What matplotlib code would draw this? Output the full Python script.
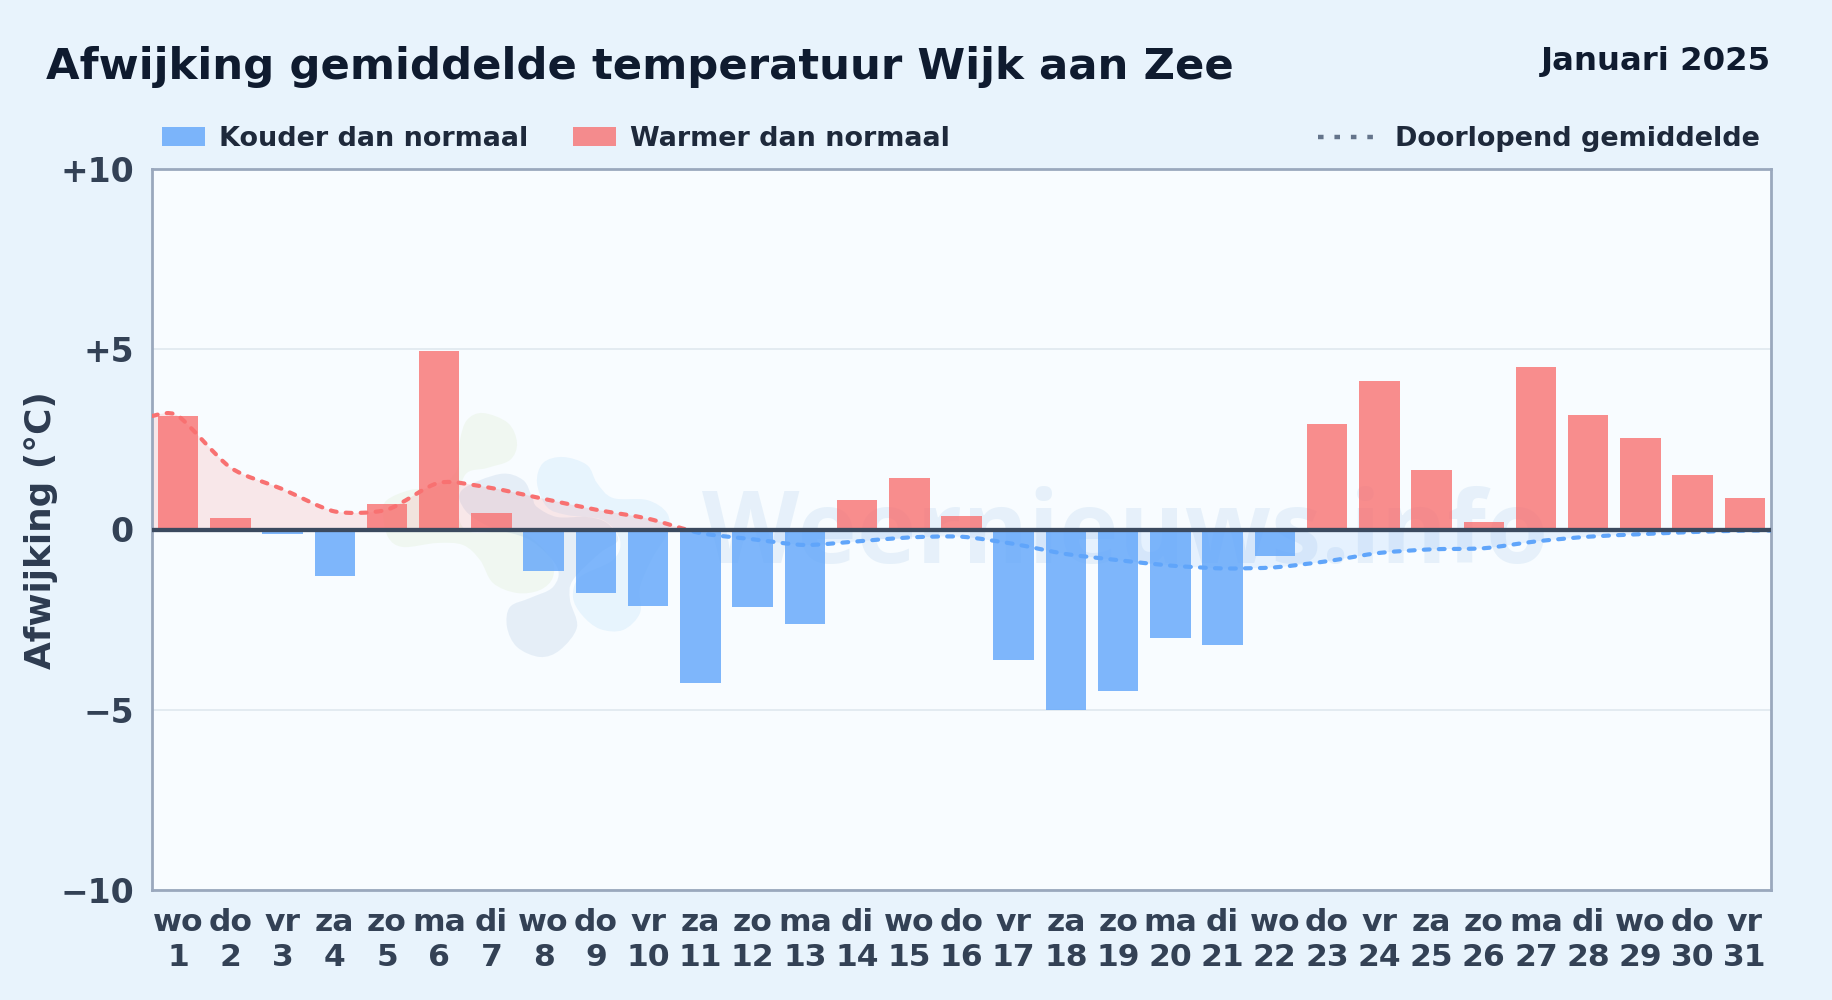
import numpy as np
import matplotlib
matplotlib.use("Agg")
import matplotlib.pyplot as plt
from matplotlib.patches import PathPatch, Rectangle
from matplotlib.path import Path
from matplotlib.transforms import Affine2D

# ---------- Data ----------
days = list(range(1, 32))
weekdays = ["wo", "do", "vr", "za", "zo", "ma", "di", "wo", "do", "vr", "za", "zo", "ma", "di", "wo", "do",
            "vr", "za", "zo", "ma", "di", "wo", "do", "vr", "za", "zo", "ma", "di", "wo", "do", "vr"]
deviation = [3.15, 0.32, -0.12, -1.3, 0.7, 4.95, 0.47, -1.15, -1.75, -2.13, -4.25, -2.15, -2.62, 0.82, 1.43, 0.37,
             -3.62, -5.02, -4.47, -3.0, -3.2, -0.73, 2.93, 4.13, 1.65, 0.2, 4.5, 3.17, 2.55, 1.5, 0.87]
running_mean = [3.15, 1.72, 1.12, 0.5, 0.55, 1.3, 1.15, 0.85, 0.55, 0.3, -0.1, -0.27, -0.43, -0.33, -0.22, -0.2,
                -0.4, -0.68, -0.85, -1.0, -1.08, -1.05, -0.88, -0.65, -0.55, -0.52, -0.33, -0.2, -0.13, -0.07, -0.03]
y_ticks = [10, 5, 0, -5, -10]
y_labels = ["+10", "+5", "0", "\u22125", "\u221210"]

# logo outlines, figure pixels
logo_green = [(483, 413), (508, 423), (517, 443), (510, 460), (487, 468), (465, 475), (458, 510), (470, 532),
              (520, 532), (550, 557), (553, 577), (540, 590), (517, 593), (493, 583), (480, 560), (463, 545),
              (437, 543), (403, 547), (388, 537), (383, 513), (387, 500), (410, 490), (437, 487), (457, 470),
              (460, 440), (467, 420)]
logo_navy = [(500, 474), (523, 480), (532, 497), (537, 507), (557, 517), (587, 517), (607, 523), (618, 540),
             (600, 553), (573, 580), (570, 600), (577, 627), (560, 650), (540, 657), (517, 647), (507, 627),
             (510, 607), (530, 598), (553, 587), (557, 567), (530, 540), (490, 527), (465, 510), (462, 490)]
logo_blue = [(563, 457), (587, 465), (597, 483), (613, 498), (647, 500), (667, 513), (668, 532), (653, 557),
             (640, 587), (640, 613), (623, 630), (600, 629), (582, 615), (573, 597), (580, 577), (613, 560),
             (620, 540), (603, 520), (567, 515), (547, 507), (537, 483), (543, 463)]

# ---------- Colours ----------
page_bg = "#e8f3fc"
plot_bg = "#f8fcff"
red = "#f87171"
blue = "#60a5fa"
dark = "#0f1b2f"
label_color = "#334155"
legend_color = "#1e293b"


def fx(px):
    return px / 1832


def fy(py):
    return 1 - py / 1000


def spline_path(points, closed=False, tension=1 / 6):
    """Catmull-Rom curve through the points, as a bezier path."""
    pts = np.array(points, dtype=float)
    n = len(pts)
    verts = [pts[0]]
    segs = n if closed else n - 1
    for i in range(segs):
        if closed:
            p0, p1, p2, p3 = pts[(i - 1) % n], pts[i], pts[(i + 1) % n], pts[(i + 2) % n]
        else:
            p0, p1, p2, p3 = pts[max(i - 1, 0)], pts[i], pts[i + 1], pts[min(i + 2, n - 1)]
        verts += [p1 + (p2 - p0) * tension, p2 - (p3 - p1) * tension, p2]
    return np.array(verts)


# ---------- Figure ----------
plt.rcParams["font.family"] = "DejaVu Sans"
plt.rcParams["font.weight"] = "bold"

fig = plt.figure(figsize=(18.32, 10), dpi=100, facecolor=page_bg)
ax = fig.add_axes([fx(152), fy(890), fx(1771 - 152), (890 - 169) / 1000], facecolor=plot_bg)
ax.set_xlim(0.5, 31.5)
ax.set_ylim(-10, 10)

# bars
colors = [red if v >= 0 else blue for v in deviation]
ax.bar(days, deviation, width=0.775, color=colors, alpha=0.8, zorder=2)

ax.set_yticks(y_ticks, y_labels)
ax.set_xticks(days, [f"{w}\n{d}" for w, d in zip(weekdays, days)])
ax.tick_params(axis="y", length=0, labelsize=23.8, labelcolor=label_color, pad=13)
ax.tick_params(axis="x", length=0, labelsize=22.6, labelcolor=label_color, pad=13)
for lab in ax.get_xticklabels():
    lab.set_linespacing(1.24)
ax.grid(axis="y", color="#dde6ee", lw=1.1, zorder=1)
ax.set_axisbelow(True)
for spine in ax.spines.values():
    spine.set_color("#9aa8bd")
    spine.set_linewidth(2)

# watermark logo and text, under the bars
logo_tf = Affine2D().scale(1, -1).translate(0, 1000)
for outline, col, alpha in [(logo_green, "#b8d890", 0.12), (logo_navy, "#3f78b8", 0.1), (logo_blue, "#52aef0", 0.1)]:
    v = spline_path(outline, closed=True)
    codes = [Path.MOVETO] + [Path.CURVE4] * (len(v) - 1)
    ax.add_patch(PathPatch(Path(v, codes), transform=logo_tf, fc=col, ec="none", alpha=alpha, zorder=1.2))
ax.text(fx(1125), fy(537), "Weernieuws.info", transform=fig.transFigure, family="Open Sans", fontweight="bold",
        fontsize=72.5, color="#4a90d0", alpha=0.1, ha="center", va="center", zorder=1.3)

# running mean, split at zero
line_x = [0.5] + days + [31.5]
line_y = [running_mean[0]] + running_mean + [running_mean[-1]]
v = spline_path(list(zip(line_x, line_y)), tension=0.125)
line_path = Path(v, [Path.MOVETO] + [Path.CURVE4] * (len(v) - 1))
area_v = np.vstack([v, [[31.5, 0], [0.5, 0], [0.5, 0]]])
area_codes = [Path.MOVETO] + [Path.CURVE4] * (len(v) - 1) + [Path.LINETO, Path.LINETO, Path.CLOSEPOLY]
area_path = Path(area_v, area_codes)
for col, y0, fill_alpha in [(red, 0, 0.15), (blue, -10, 0.12)]:
    clip = Rectangle((0.5, y0), 31, 10, transform=ax.transData)
    area = PathPatch(area_path, fc=col, ec="none", alpha=fill_alpha, zorder=1.5)
    ax.add_patch(area)
    area.set_clip_path(clip)
    curve = PathPatch(line_path, fc="none", ec=col, lw=3.0, linestyle=(0, (1.4, 2.2)), capstyle="round", zorder=6)
    ax.add_patch(curve)
    curve.set_clip_path(clip)

ax.axhline(0, color="#3b4a5f", lw=3.1, zorder=7)

# titles
fig.text(fx(46), fy(67.5), "Afwijking gemiddelde temperatuur Wijk aan Zee", fontsize=31.25, color=dark, va="center")
fig.text(fx(1771), fy(61.5), "Januari 2025", fontsize=23.3, color=dark, va="center", ha="right")
fig.text(fx(41), fy(530), "Afwijking (\u00b0C)", fontsize=25.8, color="#2d3b50", rotation=90, va="center", ha="center")

# legend
for x0, col, label in [(162, blue, "Kouder dan normaal"), (573, red, "Warmer dan normaal")]:
    fig.add_artist(Rectangle((fx(x0), fy(146)), fx(43), 19 / 1000, transform=fig.transFigure, fc=col, ec="none", alpha=0.8))
    fig.text(fx(x0 + 57), fy(139), label, fontsize=19.45, color=legend_color, va="center")
fig.add_artist(plt.Line2D([fx(1318), fx(1374)], [fy(137), fy(137)], color="#64748b", lw=3.2, linestyle=(0, (1.25, 2.45))))
fig.text(fx(1395), fy(139), "Doorlopend gemiddelde", fontsize=19.45, color=legend_color, va="center")

fig.savefig("out.png", dpi=100, facecolor=page_bg)
